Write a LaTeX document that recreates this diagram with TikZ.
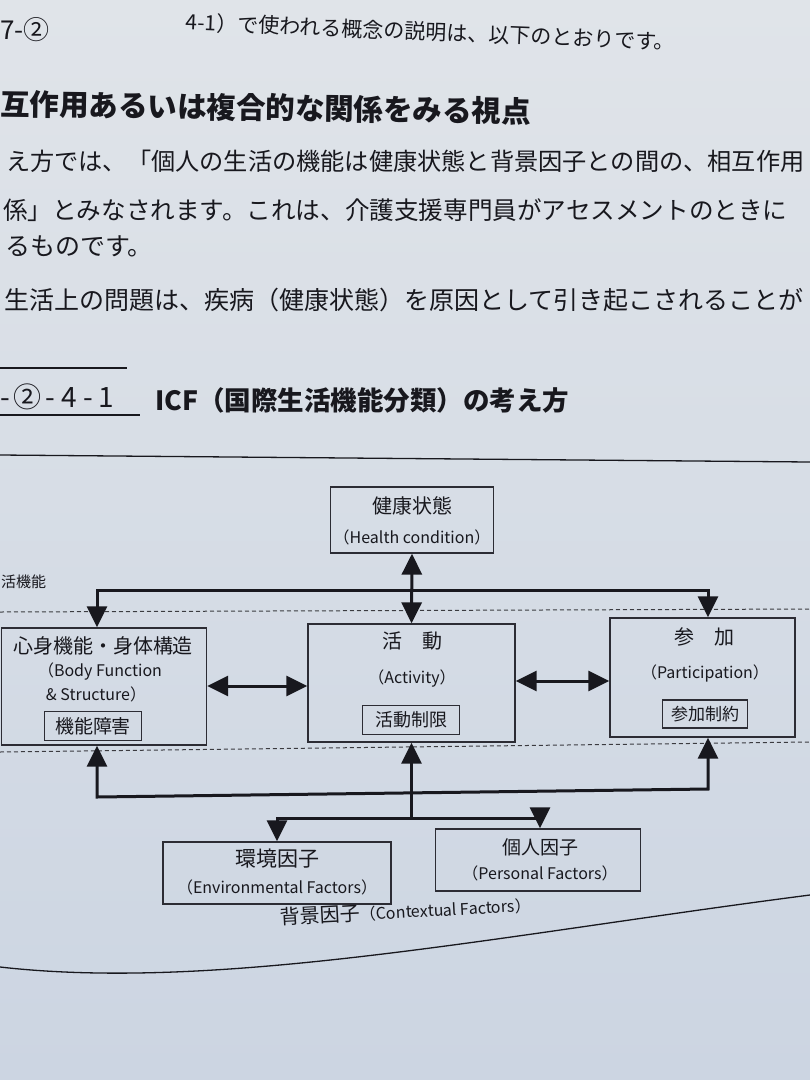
\documentclass[tikz,border=0pt]{standalone}
\usepackage{fontspec}
\setmainfont{Noto Sans CJK JP}
\usetikzlibrary{arrows.meta,calc}
\definecolor{ink}{RGB}{24,24,30}
\definecolor{boxline}{RGB}{44,44,52}
\definecolor{papertop}{RGB}{224,228,233}
\definecolor{paperbot}{RGB}{204,213,226}
\newcommand\myfs[1]{\fontsize{#1}{#1}\selectfont}
\begin{document}
\begin{tikzpicture}[x=1pt,y=-1pt,
  txt/.style={inner sep=0pt, text=ink},
  box/.style={draw=boxline, line width=1.3pt, inner sep=0pt, text=ink},
  ibox/.style={draw=boxline, line width=1.1pt, inner sep=0pt, text=ink},
  con/.style={draw=ink, line width=3pt},
  tipend/.style={-{Triangle[width=20pt,length=21pt]}},
  tipboth/.style={{Triangle[width=20pt,length=21pt]}-{Triangle[width=20pt,length=21pt]}},
  dashline/.style={draw=ink!85, line width=1pt, dash pattern=on 4pt off 3pt},
  rule/.style={draw=ink, line width=1.3pt}
]
\useasboundingbox (0,0) rectangle (810,1080);
\clip (0,0) rectangle (810,1080);
\shade[top color=papertop, bottom color=paperbot] (0,0) rectangle (810,1080);

% ---- text above ----
\node[txt, anchor=west, font=\myfs{26}] (hw) at (0,30) {7-②};
\node[txt, anchor=west, font=\myfs{21}, rotate=-2.3] (t0) at (186,22) {4-1）で使われる概念の説明は、以下のとおりです。};
\node[txt, anchor=west, font=\bfseries\myfs{29.5}, rotate=-0.8] (h1) at (0,104) {互作用あるいは複合的な関係をみる視点};
\node[txt, anchor=west, font=\myfs{24.2}] (l1) at (6,161) {え方では、「個人の生活の機能は健康状態と背景因子との間の、相互作用};
\node[txt, anchor=west, font=\myfs{24.6}] (l2) at (3,210) {係」とみなされます。これは、介護支援専門員がアセスメントのときに};
\node[txt, anchor=west, font=\myfs{25}] (l3) at (5,246) {るものです。};
\node[txt, anchor=west, font=\myfs{25}] (l4) at (4,300) {生活上の問題は、疾病（健康状態）を原因として引き起こされることが};

% ---- section heading ----
\draw[rule] (0,368) -- (127,368);
\draw[draw=ink, line width=2pt] (0,415) -- (140,415);
\node[txt, anchor=west, font=\myfs{28}] (secnum) at (0,397) {-\kern4pt②\kern4pt-\kern6pt4\kern6pt-\kern6pt1};
\node[txt, anchor=west, font=\bfseries\myfs{26.5}] (sec) at (155,400) {ICF（国際生活機能分類）の考え方};
\draw[rule] (0,455) -- (810,462);

% ---- dashed band ----
\draw[dashline] (0,612) -- (810,609);
\draw[dashline] (0,752) -- (810,742);
\node[txt, anchor=west, font=\myfs{15}] (slbl) at (1,582) {活機能};

% ---- boxes ----
\node[box, minimum width=163pt, minimum height=66pt] (hb) at (412,520) {};
\node[txt, font=\myfs{20}] (hbt1) at (412,506) {健康状態};
\node[txt, font=\myfs{16}] (hbt2) at (412,537) {（Health condition）};

\node[box, minimum width=205pt, minimum height=117pt] (body) at (104,686.5) {};
\node[txt, font=\myfs{20}] (bt1) at (103,646) {心身機能・身体構造};
\node[txt, font=\myfs{16}] (bt2) at (100,672) {（Body Function};
\node[txt, font=\myfs{16}] (bt3) at (96,694) {\&\ Structure）};
\node[ibox, minimum width=97pt, minimum height=29pt, font=\myfs{19}] (bimp) at (93,726) {機能障害};

\node[box, minimum width=207pt, minimum height=118pt] (act) at (411.5,683) {};
\node[txt, font=\myfs{20}] (at1) at (412,641) {活　動};
\node[txt, font=\myfs{16}] (at2) at (412,679) {（Activity）};
\node[ibox, minimum width=97pt, minimum height=29pt, font=\myfs{18}] (alim) at (411,720) {活動制限};

\node[box, minimum width=185pt, minimum height=119pt] (part) at (702.5,677.5) {};
\node[txt, font=\myfs{20}] (pt1) at (704,637) {参　加};
\node[txt, font=\myfs{16}] (pt2) at (705,673) {（Participation）};
\node[ibox, minimum width=85pt, minimum height=28pt, font=\myfs{17}] (pres) at (705,714) {参加制約};

\node[box, minimum width=228pt, minimum height=62pt] (env) at (277,873) {};
\node[txt, font=\myfs{21}] (et1) at (277,859) {環境因子};
\node[txt, font=\myfs{16}] (et2) at (277,887) {（Environmental Factors）};

\node[box, minimum width=205pt, minimum height=62pt] (pers) at (538,860) {};
\node[txt, font=\myfs{19}] (ps1) at (540,847) {個人因子};
\node[txt, font=\myfs{16}] (ps2) at (540,873) {（Personal Factors）};

\node[txt, anchor=west, rotate=3] (ctx) at (280,917) {\myfs{20}背景因子\myfs{16}（Contextual Factors）};

% ---- connectors ----
\coordinate (c1) at (97,590);
\coordinate (c2) at (708,590);
\draw[con, tipboth] (c1 |- body.north) -- (c1) -- (c2) -- (c2 |- part.north);
\draw[con, tipboth] (hb.south) -- (act.north);

\coordinate (h1) at (0,686);
\coordinate (h2) at (0,681);
\draw[con, tipboth] (body.east |- h1) -- (act.west |- h1);
\draw[con, tipboth] (act.east |- h2) -- (part.west |- h2);

\coordinate (b2) at (97,797);
\coordinate (p2) at (708,789);
\draw[con, tipboth] (b2 |- body.south) -- (b2) -- (p2) -- (p2 |- part.south);
\coordinate (a3) at (411.5,818);
\draw[con, tipend] (a3) -- (a3 |- act.south);

\coordinate (e1) at (277,818);
\coordinate (p3) at (540,818);
\draw[con, tipboth] (e1 |- env.north) -- (e1) -- (p3) -- (p3 |- pers.north);

% ---- bottom curve ----
\draw[rule] (0,967) .. controls (220,992) and (500,935) .. (810,895);
\end{tikzpicture}
\end{document}
